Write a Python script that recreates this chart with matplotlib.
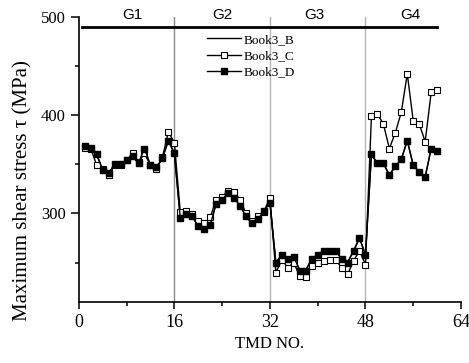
import numpy as np
import matplotlib.pyplot as plt

# TMD numbers and shear stress per book (MPa)
tmd_no = np.arange(1, 61)

book3_c = [367, 366, 349, 345, 339, 349, 349, 354, 361, 352,
           361, 349, 345, 357, 383, 372, 301, 303, 299, 292,
           290, 296, 314, 317, 323, 322, 314, 300, 292, 297,
           302, 316, 240, 253, 245, 250, 236, 235, 247, 250,
           252, 253, 253, 245, 238, 252, 262, 248, 399, 401,
           391, 366, 382, 403, 442, 394, 391, 373, 423, 425]

book3_d = [369, 367, 360, 344, 341, 350, 350, 354, 358, 351,
           366, 349, 347, 356, 374, 361, 295, 299, 297, 287,
           284, 288, 310, 314, 321, 316, 308, 297, 290, 294,
           303, 311, 250, 258, 254, 256, 242, 242, 254, 258,
           262, 262, 262, 254, 250, 262, 275, 258, 360, 351,
           351, 339, 348, 355, 374, 349, 342, 337, 366, 364]

# Book3_B sits under the other two curves
book3_b = list(book3_d)

group_names = ['G1', 'G2', 'G3', 'G4']
group_centres = [9, 24, 39.5, 55.5]
group_bounds = [16, 32, 48]

plt.rcParams['font.family'] = ['Liberation Serif', 'DejaVu Serif']

fig = plt.figure(figsize=(4.69, 3.63), dpi=100)
ax = fig.add_axes([0.168, 0.168, 0.815, 0.786])

for b in group_bounds:
    col = '#888888' if b == 16 else '#b4b4b4'
    ax.plot([b, b], [210, 500], color=col, lw=1.0, zorder=1)

ax.plot([0.6, 60], [490, 490], color='black', lw=2.0, zorder=2)
for name, xc in zip(group_names, group_centres):
    ax.text(xc, 502, name, ha='center', va='center', fontsize=11,
            family='Liberation Sans', clip_on=False)

ax.plot(tmd_no, book3_b, color='black', lw=1.0, label='Book3_B', zorder=3)
ax.plot(tmd_no, book3_c, color='black', lw=1.0, marker='s', ms=5,
        mfc='white', mec='black', mew=0.8, label='Book3_C', zorder=4)
ax.plot(tmd_no, book3_d, color='black', lw=1.0, marker='s', ms=5,
        mfc='black', mec='black', label='Book3_D', zorder=5)

leg = ax.legend(loc='upper left', bbox_to_anchor=(0.335, 0.94), frameon=False,
                fontsize=9.5, handlelength=2.6, labelspacing=0.3,
                handletextpad=0.15, borderaxespad=0, borderpad=0, numpoints=1)

ax.set_xlim(0, 64)
ax.set_ylim(210, 500)
ax.set_xticks([0, 16, 32, 48, 64])
ax.set_xticks([8, 24, 40, 56], minor=True)
ax.set_yticks([300, 400, 500])
ax.set_yticks([250, 350, 450], minor=True)
ax.tick_params(axis='x', which='major', labelsize=13, length=5, width=1.1, direction='out')
ax.tick_params(axis='y', which='major', labelsize=12, length=6, width=1.1, direction='out')
ax.tick_params(which='minor', length=3, width=1.1, direction='out')

for s in ['top', 'right']:
    ax.spines[s].set_visible(False)
for s in ['left', 'bottom']:
    ax.spines[s].set_linewidth(1.2)

ax.set_xlabel('TMD NO.', fontsize=12)
ax.set_ylabel('Maximum shear stress \u03c4 (MPa)', fontsize=15)
ax.yaxis.set_label_coords(-0.12, 0.39)

plt.savefig('out.png', dpi=100)
